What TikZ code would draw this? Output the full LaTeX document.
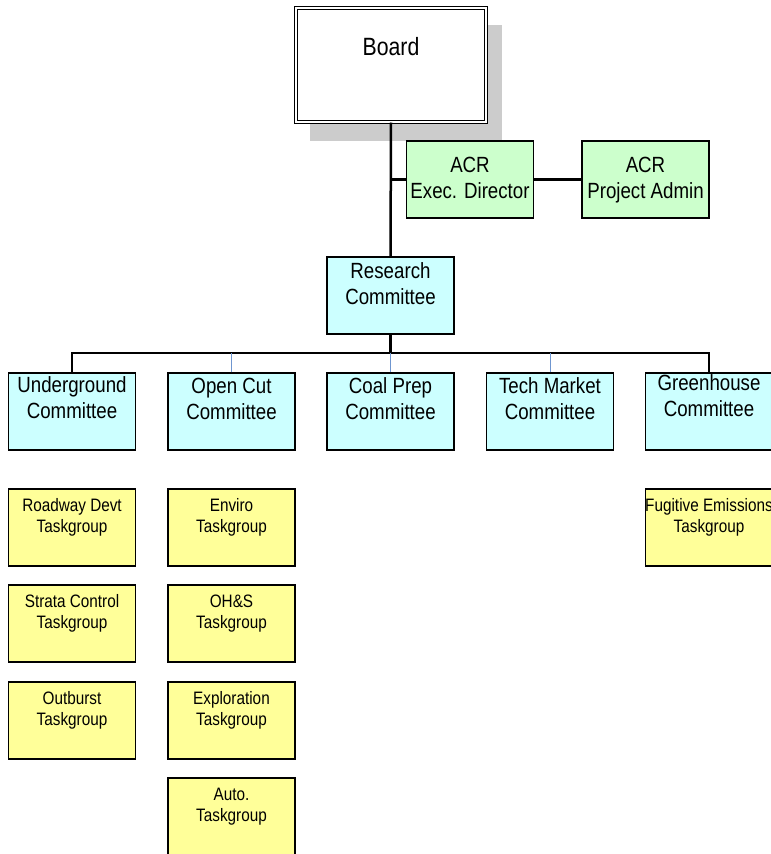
\documentclass[tikz,border=0pt]{standalone}
\usepackage{fontspec}
\setmainfont[FakeStretch=0.85]{Liberation Sans}
\definecolor{cyanfill}{HTML}{CCFFFF}
\definecolor{greenfill}{HTML}{CCFFCC}
\definecolor{yellowfill}{HTML}{FFFF99}
\definecolor{shadowgray}{HTML}{CCCCCC}
\definecolor{thinblue}{HTML}{6F96D0}
\tikzset{
  box/.style={draw=black, line width=1.1pt, minimum width=127pt, minimum height=77pt, inner sep=0pt},
  combox/.style={box, fill=cyanfill},
  accbox/.style={box, fill=greenfill},
  taskbox/.style={box, fill=yellowfill},
  comtxt/.style={anchor=north, inner sep=0pt, align=center, font=\fontsize{22}{26}\selectfont},
  tasktxt/.style={anchor=north, inner sep=0pt, align=center, font=\fontsize{18}{21}\selectfont},
  conn/.style={draw=black, line width=2.5pt},
  thinconn/.style={draw=thinblue, line width=0.9pt}
}
\begin{document}
\begin{tikzpicture}[x=1pt,y=-1pt]
\clip (0,0) rectangle (771,854);
\fill[white] (0,0) rectangle (771,854);
% shadow of board
\fill[shadowgray] (310,25) rectangle (502,141);
% Board
\node[draw=black, fill=white, line width=1pt, double, double distance=1.6pt, minimum width=190pt, minimum height=114pt, inner sep=0pt] (board) at (391,65) {};
\node[anchor=north, inner sep=0pt, font=\fontsize{25}{30}\selectfont] (boardtxt) at ([yshift=-30pt]board.north) {Board};
% ACR boxes
\node[accbox] (exec) at (470,179.5) {};
\node[accbox] (admin) at (645.5,179.5) {};
\node[comtxt] (exectxt) at ([yshift=-16pt]exec.north) {ACR\\Exec. Director};
\node[comtxt] (admintxt) at ([yshift=-16pt]admin.north) {ACR\\Project Admin};
% Research committee
\node[combox] (rc) at (390.5,295.5) {};
\node[comtxt] (rctxt) at ([yshift=-6pt]rc.north) {Research\\Committee};
% Committees
\node[combox] (ug) at (72,411.5) {};
\node[combox] (oc) at (231.5,411.5) {};
\node[combox] (cp) at (390.5,411.5) {};
\node[combox] (tm) at (550,411.5) {};
\node[combox] (gh) at (709,411.5) {};
\node[comtxt] (ugtxt) at ([yshift=-4pt]ug.north) {Underground\\Committee};
\node[comtxt] (octxt) at ([yshift=-5pt]oc.north) {Open Cut\\Committee};
\node[comtxt] (cptxt) at ([yshift=-5pt]cp.north) {Coal Prep\\Committee};
\node[comtxt] (tmtxt) at ([yshift=-5pt]tm.north) {Tech Market\\Committee};
\node[comtxt] (ghtxt) at ([yshift=-2pt]gh.north) {Greenhouse\\Committee};
% Taskgroups
\node[taskbox] (rd) at (72,527.5) {};
\node[taskbox] (sc) at (72,623.5) {};
\node[taskbox] (ob) at (72,720.5) {};
\node[taskbox] (en) at (231.5,527.5) {};
\node[taskbox] (oh) at (231.5,623.5) {};
\node[taskbox] (ex) at (231.5,720.5) {};
\node[taskbox] (au) at (231.5,816.5) {};
\node[taskbox] (fe) at (709,527.5) {};
\node[tasktxt] at ([yshift=-10pt]rd.north) {Roadway Devt\\Taskgroup};
\node[tasktxt] at ([yshift=-10pt]sc.north) {Strata Control\\Taskgroup};
\node[tasktxt] at ([yshift=-10pt]ob.north) {Outburst\\Taskgroup};
\node[tasktxt] at ([yshift=-10pt]en.north) {Enviro\\Taskgroup};
\node[tasktxt] at ([yshift=-10pt]oh.north) {OH\&S\\Taskgroup};
\node[tasktxt] at ([yshift=-10pt]ex.north) {Exploration\\Taskgroup};
\node[tasktxt] at ([yshift=-10pt]au.north) {Auto.\\Taskgroup};
\node[tasktxt] at ([yshift=-10pt]fe.north) {Fugitive Emissions\\Taskgroup};
% connectors
\coordinate (bus) at (390.5,353);
\draw[conn] (board.south) -- (rc.north);
\draw[conn] (board.south |- exec.west) -- (exec.west);
\draw[conn] (exec.east) -- (admin.west);
\draw[conn] (rc.south) -- (bus);
\draw[conn] (ug.north) |- (bus) -| (gh.north);
\draw[thinconn] (oc.north) -- (oc.north |- bus);
\draw[thinconn] (cp.north) -- (cp.north |- bus);
\draw[thinconn] (tm.north) -- (tm.north |- bus);
\end{tikzpicture}
\end{document}
